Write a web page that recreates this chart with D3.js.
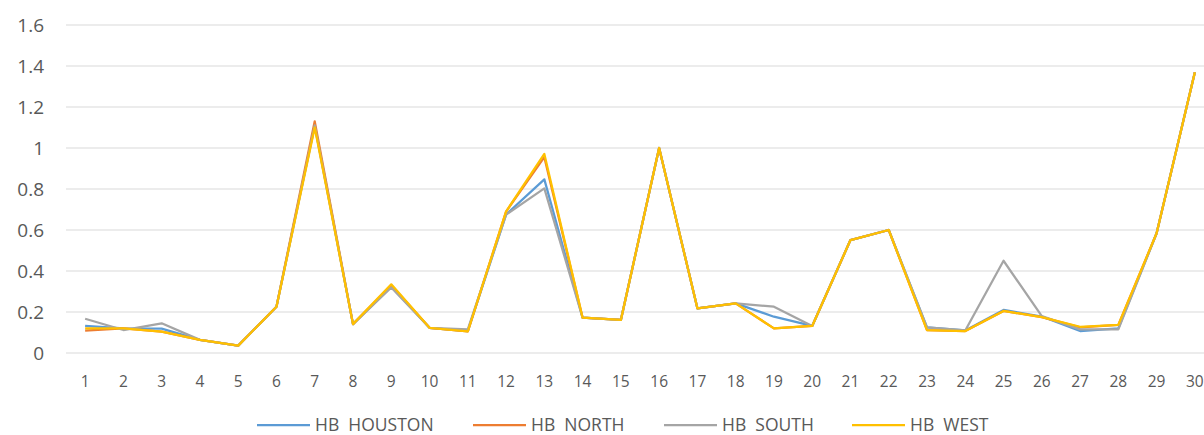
<!DOCTYPE html>
<html>
<head>
<meta charset="utf-8">
<script src="https://cdn.jsdelivr.net/npm/d3@7"></script>
<style>
  body { margin: 0; background: #fff; }
  svg text { font-family: "Open Sans", "Liberation Sans", sans-serif; fill: #595959; }
</style>
</head>
<body>
<svg id="chart" width="1204" height="435"></svg>
<script>
// chart data
var days = d3.range(1, 31).map(String);
var houston = [0.132, 0.12, 0.119, 0.064, 0.036, 0.226, 1.11, 0.141, 0.325, 0.123, 0.107, 0.675, 0.847, 0.172, 0.161, 1.0, 0.218, 0.242, 0.177, 0.132, 0.551, 0.6, 0.125, 0.11, 0.21, 0.178, 0.107, 0.12, 0.584, 1.369];
var north = [0.109, 0.12, 0.104, 0.064, 0.036, 0.226, 1.13, 0.141, 0.33, 0.123, 0.105, 0.69, 0.955, 0.172, 0.161, 1.0, 0.218, 0.242, 0.12, 0.132, 0.551, 0.6, 0.112, 0.107, 0.205, 0.175, 0.125, 0.137, 0.584, 1.369];
var south = [0.167, 0.112, 0.145, 0.064, 0.036, 0.226, 1.11, 0.141, 0.32, 0.123, 0.115, 0.675, 0.803, 0.172, 0.161, 1.0, 0.218, 0.242, 0.226, 0.132, 0.551, 0.6, 0.125, 0.11, 0.45, 0.18, 0.115, 0.115, 0.584, 1.369];
var west = [0.12, 0.12, 0.104, 0.064, 0.036, 0.226, 1.1, 0.141, 0.335, 0.123, 0.105, 0.69, 0.971, 0.172, 0.161, 1.0, 0.218, 0.242, 0.12, 0.132, 0.551, 0.6, 0.112, 0.107, 0.205, 0.175, 0.128, 0.137, 0.584, 1.369];
var yTicks = [0, 0.2, 0.4, 0.6, 0.8, 1, 1.2, 1.4, 1.6];

var series = [
    { name: "HB  HOUSTON", values: houston, color: "#5B9BD5" },
    { name: "HB  NORTH", values: north, color: "#ED7D31" },
    { name: "HB  SOUTH", values: south, color: "#A5A5A5" },
    { name: "HB  WEST", values: west, color: "#FFC000" }
];

var svg = d3.select("#chart");

// plot area
var plotLeft = 66, plotRight = 1214, plotTop = 25, plotBottom = 353;

var x = d3.scalePoint()
    .domain(days)
    .range([plotLeft, plotRight])
    .padding(0.5);

var y = d3.scaleLinear()
    .domain([0, 1.6])
    .range([plotBottom, plotTop]);

// gridlines
svg.append("g")
    .selectAll("line")
    .data(yTicks)
    .enter().append("line")
    .attr("x1", plotLeft)
    .attr("x2", plotRight)
    .attr("y1", function (d) { return y(d); })
    .attr("y2", function (d) { return y(d); })
    .attr("stroke", "#D9D9D9")
    .attr("stroke-width", 1);

// y labels
svg.append("g")
    .selectAll("text")
    .data(yTicks)
    .enter().append("text")
    .attr("x", 44)
    .attr("y", function (d) { return y(d); })
    .attr("dy", "0.35em")
    .attr("text-anchor", "end")
    .style("font-size", "19px")
    .text(function (d) { return d; });

// x labels
svg.append("g")
    .selectAll("text")
    .data(days)
    .enter().append("text")
    .attr("x", function (d) { return x(d); })
    .attr("y", 382)
    .attr("dy", "0.35em")
    .attr("text-anchor", "middle")
    .style("font-size", "15.5px")
    .text(function (d) { return d; });

// lines
var line = d3.line()
    .x(function (d, i) { return x(days[i]); })
    .y(function (d) { return y(d); });

series.forEach(function (s) {
    svg.append("path")
        .datum(s.values)
        .attr("fill", "none")
        .attr("stroke", s.color)
        .attr("stroke-width", 2.25)
        .attr("stroke-linejoin", "round")
        .attr("d", line);
});

// legend
var legendX = [257, 473, 664, 852];
var legend = svg.append("g")
    .selectAll("g")
    .data(series)
    .enter().append("g")
    .attr("transform", function (d, i) { return "translate(" + legendX[i] + ",425)"; });

legend.append("line")
    .attr("x1", 0).attr("x2", 53)
    .attr("stroke", function (d) { return d.color; })
    .attr("stroke-width", 2.25);

legend.append("text")
    .attr("x", 58)
    .attr("dy", "0.33em")
    .style("font-size", "17.5px")
    .style("white-space", "pre")
    .text(function (d) { return d.name; });
</script>
</body>
</html>
